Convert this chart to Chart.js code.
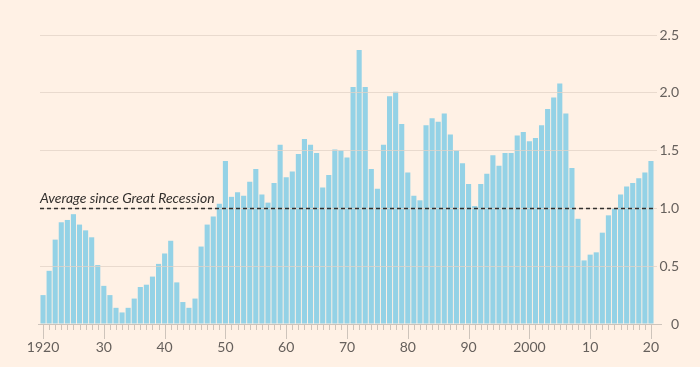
<!DOCTYPE html>
<html>
<head>
<meta charset="utf-8">
<script src="https://cdn.jsdelivr.net/npm/chart.js@4"></script>
<style>
html,body{margin:0;padding:0;background:#FFF1E5;}
#wrap{width:700px;height:367px;position:relative;}
</style>
</head>
<body>
<div id="wrap"><canvas id="c" width="700" height="367"></canvas></div>
<script>
const years = [];
for (let y = 1920; y <= 2020; y++) years.push(y);

const values = [
  0.25, 0.46, 0.73, 0.88, 0.90, 0.95, 0.86, 0.81, 0.75, 0.51,
  0.33, 0.25, 0.14, 0.10, 0.14, 0.22, 0.32, 0.34, 0.41, 0.52,
  0.61, 0.72, 0.36, 0.19, 0.14, 0.22, 0.67, 0.86, 0.93, 1.04,
  1.41, 1.10, 1.14, 1.11, 1.23, 1.34, 1.12, 1.05, 1.22, 1.55,
  1.27, 1.32, 1.47, 1.60, 1.55, 1.48, 1.18, 1.29, 1.51, 1.50,
  1.44, 2.05, 2.37, 2.05, 1.34, 1.17, 1.55, 1.97, 2.01, 1.73,
  1.31, 1.11, 1.07, 1.72, 1.78, 1.75, 1.82, 1.64, 1.50, 1.39,
  1.21, 1.02, 1.21, 1.30, 1.46, 1.37, 1.48, 1.48, 1.63, 1.66,
  1.58, 1.61, 1.72, 1.86, 1.96, 2.08, 1.82, 1.35, 0.91, 0.55,
  0.60, 0.62, 0.79, 0.94, 1.00, 1.12, 1.19, 1.22, 1.26, 1.31,
  1.41
];

const averageValue = [1.0];
const averageLabel = ["Average since Great Recession"];
const yTicks = [0, 0.5, 1.0, 1.5, 2.0, 2.5];

function xLabel(year) {
  if (year % 10 !== 0) return '';
  if (year === 1920) return '1920';
  if (year === 2000) return '2000';
  return String(year % 100).padStart(2, '0');
}

const FONT = 'Lato, "Open Sans", sans-serif';

const overlay = {
  id: 'overlay',
  afterDraw(chart) {
    const {ctx, chartArea, scales} = chart;
    const x = scales.x, y = scales.y;
    ctx.save();
    const y0 = Math.round(y.getPixelForValue(0));
    ctx.strokeStyle = '#CEC4BB';
    ctx.lineWidth = 1;
    ctx.beginPath();
    ctx.moveTo(chartArea.left - 2, y0 + 0.5);
    ctx.lineTo(chartArea.right + 8, y0 + 0.5);
    ctx.stroke();
    years.forEach((yr, i) => {
      const px = Math.round(x.getPixelForValue(i)) + 0.5;
      const len = yr % 10 === 0 ? 15 : 6;
      ctx.beginPath();
      ctx.moveTo(px, y0 + 1);
      ctx.lineTo(px, y0 + len);
      ctx.stroke();
    });
    const ya = Math.round(y.getPixelForValue(averageValue[0])) + 0.5;
    ctx.strokeStyle = '#33302E';
    ctx.lineWidth = 1.6;
    ctx.setLineDash([4, 3]);
    ctx.beginPath();
    ctx.moveTo(chartArea.left, ya);
    ctx.lineTo(chartArea.right, ya);
    ctx.stroke();
    ctx.setLineDash([]);
    ctx.fillStyle = '#33302E';
    ctx.font = 'italic 14px ' + FONT;
    ctx.textBaseline = 'alphabetic';
    ctx.textAlign = 'left';
    ctx.fillText(averageLabel[0], chartArea.left, ya - 6);
    ctx.restore();
  }
};

const bgPlugin = {
  id: 'bg',
  beforeDraw(chart) {
    const ctx = chart.ctx;
    ctx.save();
    ctx.fillStyle = '#FFF1E5';
    ctx.fillRect(0, 0, chart.width, chart.height);
    ctx.restore();
  }
};

new Chart(document.getElementById('c'), {
  type: 'bar',
  data: {
    labels: years,
    datasets: [{
      data: values,
      backgroundColor: '#94D2E6',
      borderWidth: 0,
      barPercentage: 0.84,
      categoryPercentage: 1.0
    }]
  },
  options: {
    responsive: false,
    animation: false,
    devicePixelRatio: 1,
    layout: { padding: { left: 40, right: 21, top: 35, bottom: 0 } },
    plugins: { legend: { display: false }, tooltip: { enabled: false } },
    scales: {
      x: {
        offset: true,
        grid: { display: false, drawTicks: false },
        border: { display: false },
        afterFit(axis) { axis.height = 43; },
        ticks: {
          autoSkip: false,
          maxRotation: 0,
          padding: 15,
          color: '#66605C',
          font: { family: FONT, size: 14 },
          callback: (v, i) => xLabel(years[i])
        }
      },
      y: {
        position: 'right',
        min: 0,
        max: 2.5,
        afterBuildTicks(axis) { axis.ticks = yTicks.map(v => ({ value: v })); },
        afterFit(axis) { axis.width = 25; },
        grid: {
          z: 1,
          color: (c) => c.tick && c.tick.value === 0 ? 'rgba(0,0,0,0)' : 'rgba(225,210,198,0.75)',
          tickLength: 3,
          drawTicks: true
        },
        border: { display: false },
        ticks: {
          padding: 4,
          crossAlign: 'far',
          color: '#66605C',
          font: { family: FONT, size: 14 },
          callback: (v) => v === 0 ? '0' : v.toFixed(1)
        }
      }
    }
  },
  plugins: [bgPlugin, overlay]
});
</script>
</body>
</html>
